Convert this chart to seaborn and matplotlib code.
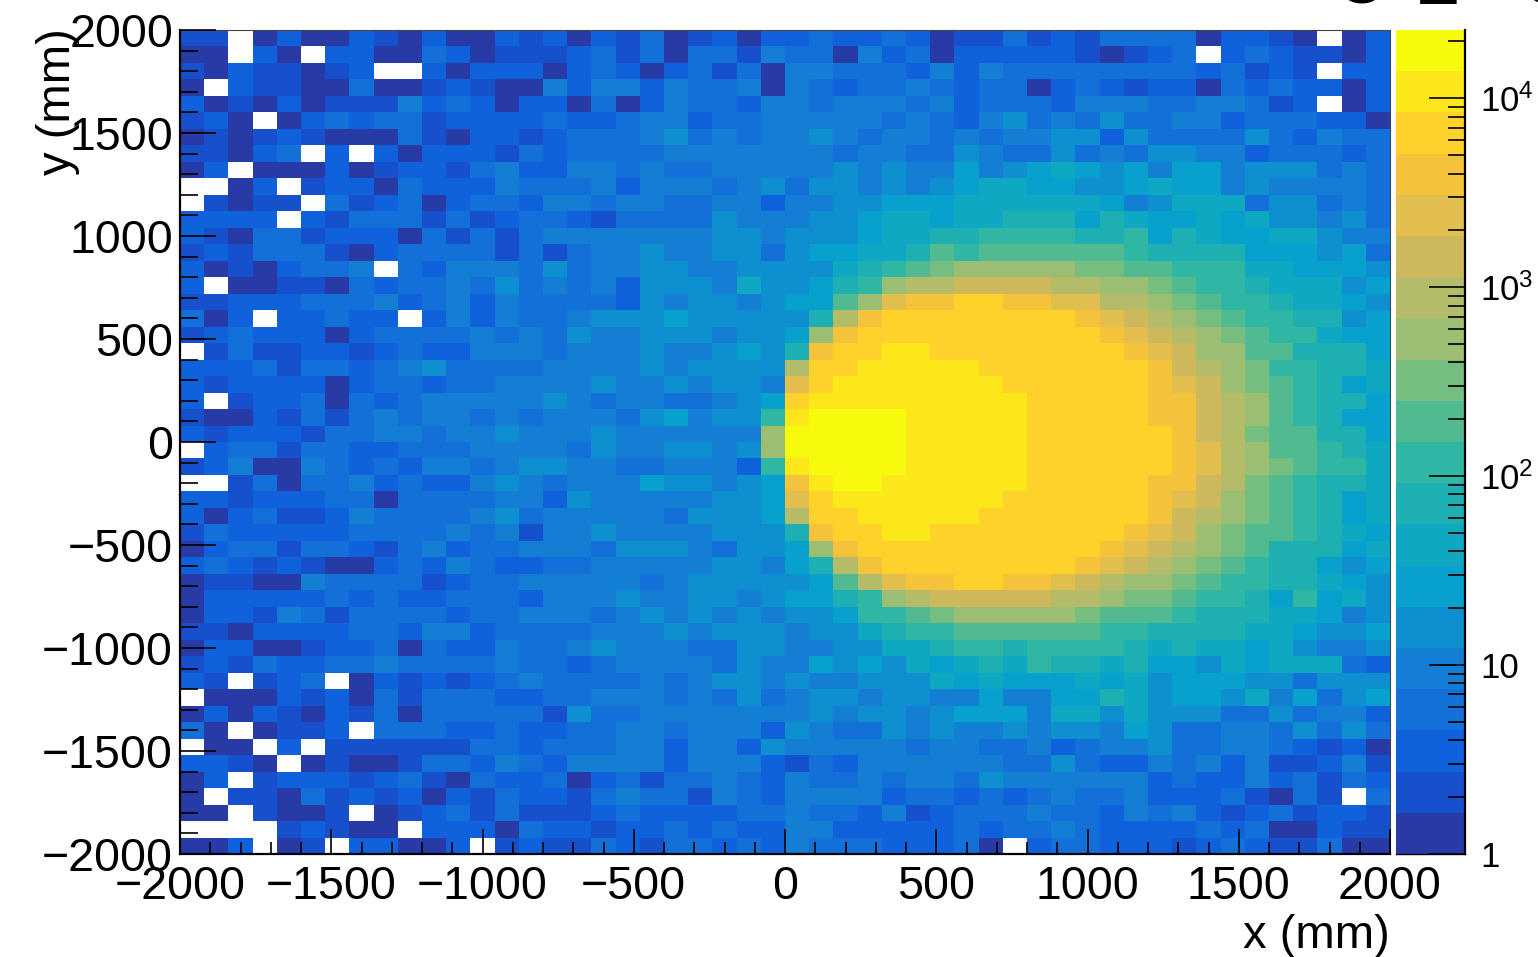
import numpy as np
import pandas as pd
import matplotlib
matplotlib.use("Agg")
import matplotlib.pyplot as plt
from matplotlib.colors import ListedColormap, LogNorm
import seaborn as sns

# One string per row, top row (y = +2000) first, 50 bins of 80 mm each.
# Each character is the colour band of the bin (0-9, a-j), "." is an empty bin.
# Blocks: x bins 0-16, 17-33, 34-49.
bin_bands = [
    "11.02002102002120 21301202232232011 3121333302210.02",
    "00.20.22003201112 31303314330423022 22210123.2321102",
    "10211012..2022202 32023130443332424 3333333323121.22",
    "0.211003001210042 44243340432334323 3023212203232202",
    "20102011142320220 30243324434443423 3324443344312.02",
    "120.0232331222232 23442334444434324 5343533442333220",
    "01012100031022123 33453434454344343 4455253333532433",
    "11023.2.202221323 33344444443443354 3353435544233323",
    "02.00020122134224 43433444445454464 5676564664555343",
    "..02.122032224333 42444345355454567 7665567664544443",
    ".1011.31230233244 34433442445566677 7777645777355343",
    "2222.213331312332 13333544455677677 8886876676755453",
    "21033122203131344 44444554555677889 9998896876677544",
    "12133310233331313 44544553566778a9a aaaaa98888666563",
    "20102334.32444353 4455445555789abcc cccbbaa999776665",
    "2.001103233435343 425554755689cddee eeddccba99877756",
    "11222333423424333 3254554566acfgghh ggffddcba9987765",
    "302.22322.2424334 5556555558dghhhhh hhhgfedcba998856",
    "12322202333343435 445554556cghhhhhh hhhhgfedcba99766",
    ".1311221232244434 445445658ghhiihhh hhhhhgfeccaa8886",
    "22231332345333344 44545555dhhiiiiih hhhhhhgedcb99887",
    "21222202332334444 54454554fhiiiiiii hhhhhhgfecba9867",
    "2.122303234444454 34433456hiiiiiiii ihhhhhggedca9886",
    "10021313434434344 43564559ijjjjiiii ihhhhhggedca9866",
    "21222133443445444 5444444cjjjjjiiii ihhhhhhgedbaa886",
    ".2331332233344443 5445545cjjjjjiiii ihhhhhhgfdcaa987",
    "12400432324434554 43344429ijjjjiiii ihhhhhhgfdcba997",
    "..130334232245434 44655456gijjiiiii ihhhhhggedba9887",
    "22122233033334425 44444556fhiiiiiii hhhhhhgfecba9867",
    "20231124333345344 44435556dhhiiiiih hhhhhhgedcba9867",
    "13222223333434144 544445558ghhiihhh hhhhhgfecbaa9876",
    "02331332134233444 355543556cghhhhhh hhhhgfedcba88867",
    "23212100232432233 4444455468dghhhhh hhhgfedcba988656",
    "01100433331233444 4434555556adfgghh ggfedccba9988765",
    "02222232322333244 454455456689cdeee eeddcbba99869675",
    "02214313333233444 3454545455699abcc cccbaaa988877645",
    "11022223324423333 444545554557899aa aaaa998888776556",
    "02200122303224334 54443355445577899 8999987877675445",
    "12132233433334332 34444354465657678 7988786657677732",
    "21.123.0212123433 33434554544555767 6667675666553555",
    ".0002120313332233 44434353455455446 4466875665746356",
    "02021021303333315 33444444454554566 6477575553353442",
    "30.0112.333223223 34434442543354544 5455465334435353",
    ".00.2.11111133233 34424425444443443 3423445334432120",
    "2210.010013324324 44424442132444444 3353224342411241",
    "02.12221231032230 23133432433434435 4444442322423132",
    "0.110312120213221 34331432444423323 23433422231031.3",
    "00.1001.012313111 23222233433241233 3433243421231221",
    "....12100.2220322 12232322442222232 3343222232300211",
    "002.01.22002.1211 32133232433322230 .233222123211300",
]

band_chars = "0123456789abcdefghij"
band_colors = [
    "#283aa5", "#1650cc", "#1062dc", "#1270d8", "#147dd4",
    "#0e8fd0", "#08a0cd", "#0ea8c3", "#1eafb2", "#2fb7a3",
    "#52ba91", "#76be80", "#9bbe73", "#b4bc69", "#ceb85c",
    "#e2be4e", "#f4c33a", "#fed22a", "#fce81a", "#f8fa0d",
]

z_min = 1
z_max = 2.3e4

x_edges_mm = np.arange(-2000, 2001, 80)
y_edges_mm = np.arange(2000, -2001, -80)

major_pos = [-2000, -1500, -1000, -500, 0, 500, 1000, 1500, 2000]
major_labels = ["\u22122000", "\u22121500", "\u22121000", "\u2212500", "0", "500", "1000", "1500", "2000"]
minor_pos = np.arange(-2000, 2001, 100)

z_major = [1, 10, 100, 1000, 10000]
z_labels = ["1", "10", "$10^{2}$", "$10^{3}$", "$10^{4}$"]
z_minor = [m * d for d in (1, 10, 100, 1000) for m in range(2, 10)] + [20000]

sns.set_style("white")
plt.rcParams["font.family"] = ["Liberation Sans", "DejaVu Sans"]
plt.rcParams["mathtext.default"] = "regular"
plt.rcParams["text.color"] = "black"
plt.rcParams["xtick.color"] = "black"
plt.rcParams["ytick.color"] = "black"
plt.rcParams["axes.axisbelow"] = False  # ticks have to stay on top of the cells

# Turn the colour bands back into counts (middle of each log band)
log_step = np.log10(z_max / z_min) / len(band_chars)
rows = []
for row in bin_bands:
    row = row.replace(" ", "")
    rows.append([np.nan if c == "." else z_min * 10 ** ((band_chars.index(c) + 0.5) * log_step) for c in row])
counts = pd.DataFrame(rows, index=y_edges_mm[:-1] - 40, columns=x_edges_mm[:-1] + 40)

W, H = 1538, 957
fig = plt.figure(figsize=(W / 100, H / 100), dpi=100, facecolor="white")
ax = fig.add_axes([180 / W, 1 - 854 / H, 1210 / W, 824 / H])
cax = fig.add_axes([1396 / W, 1 - 854 / H, 69 / W, 824 / H])

sns.heatmap(counts, ax=ax, cbar_ax=cax, cmap=ListedColormap(band_colors),
            norm=LogNorm(vmin=z_min, vmax=z_max), xticklabels=False, yticklabels=False)


# heatmap axes run in bin numbers, so convert mm to bin position
def x_to_bin(v):
    return (np.asarray(v) + 2000) / 80


def y_to_bin(v):
    return (2000 - np.asarray(v)) / 80


ax.set_xticks(x_to_bin(major_pos))
ax.set_xticklabels(major_labels, rotation=0)
ax.set_xticks(x_to_bin(minor_pos), minor=True)
ax.set_yticks(y_to_bin(major_pos))
ax.set_yticklabels(major_labels, rotation=0)
ax.set_yticks(y_to_bin(minor_pos), minor=True)
ax.set_xlabel("")
ax.set_ylabel("")
ax.set_axisbelow(False)
cax.set_axisbelow(False)

ax.tick_params(axis="x", which="major", bottom=True, direction="in", length=18, width=1.2,
               color="black", labelcolor="black", labelsize=33.5, pad=8)
ax.tick_params(axis="x", which="minor", bottom=True, direction="in", length=8.6, width=1.2, color="black")
ax.tick_params(axis="y", which="major", left=True, direction="in", length=26, width=1.2,
               color="black", labelcolor="black", labelsize=33.5, pad=5)
ax.tick_params(axis="y", which="minor", left=True, direction="in", length=13, width=1.2, color="black")

for side in ["left", "bottom"]:
    ax.spines[side].set_visible(True)
    ax.spines[side].set_color("black")
    ax.spines[side].set_linewidth(1.6)
for side in ["top", "right"]:
    ax.spines[side].set_visible(True)
    ax.spines[side].set_color("#444444")
    ax.spines[side].set_linewidth(0.8)

# Colour bar
cb = ax.collections[0].colorbar
cb.outline.set_visible(False)
cax.set_yticks(z_major)
cax.set_yticklabels(z_labels)
cax.set_yticks(z_minor, minor=True)
cax.set_yticklabels([], minor=True)
cax.tick_params(axis="y", which="major", direction="in", right=True, left=False,
                length=26, width=1.2, color="black", labelcolor="black", labelsize=25, pad=11)
cax.tick_params(axis="y", which="minor", direction="in", right=True, left=False,
                length=12.5, width=1.2, color="black")
cax.spines["right"].set_visible(True)
cax.spines["right"].set_color("black")
cax.spines["right"].set_linewidth(1.6)
cax.spines["bottom"].set_visible(True)
cax.spines["bottom"].set_color("black")
cax.spines["bottom"].set_linewidth(1.0)

# Axis titles sit where ROOT puts them, at the far end of each axis
fig.text(1390 / W, 1 - 948 / H, "x (mm)", ha="right", va="baseline", fontsize=34)
fig.text(58 / W, 1 - 28 / H, "y (mm)", ha="center", va="top", rotation=90, fontsize=34)

# Bottom edge of a title that is cut off by the top of the image
for cut_text, cut_x in zip(["O", "Z", "C"], [1362, 1438, 1545]):
    fig.text(cut_x / W, 1 - 3.5 / H, cut_text, ha="center", va="baseline", fontsize=48)

fig.savefig("out.png", dpi=100)
